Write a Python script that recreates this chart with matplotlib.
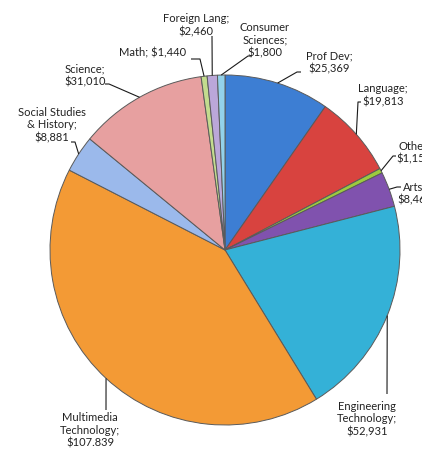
import numpy as np
import matplotlib
matplotlib.use("Agg")
import matplotlib.pyplot as plt

# ---- data ----
categories = ["Prof Dev", "Language", "Other", "Arts", "Engineering\nTechnology",
              "Multimedia\nTechnology", "Social Studies\n& History", "Science",
              "Math", "Foreign Lang", "Consumer\nSciences"]
values = [25369, 19813, 1150, 8460, 52931, 107839, 8881, 31010, 1440, 2460, 1800]
value_labels = ["$25,369", "$19,813", "$1,150", "$8,460", "$52,931", "$107.839",
                "$8,881", "$31,010", "$1,440", "$2,460", "$1,800"]
colors = ["#3D7ED3", "#D8433F", "#9CCB3E", "#8052AE", "#34B1D7", "#F39A35",
          "#9BB9EB", "#E7A0A0", "#C3DC8E", "#BBA7D9", "#93D2EA"]

W, H = 422, 453
fig = plt.figure(figsize=(W / 100, H / 100), dpi=100)
ax = fig.add_axes([0, 0, 1, 1])

cx, cy, R = 225, 250, 175  # pixel coords (y from top)


def P(x, y):
    return x, H - y


wedges, _ = ax.pie(values, colors=colors, startangle=90, counterclock=False,
                   center=P(cx, cy), radius=R, frame=True,
                   wedgeprops=dict(edgecolor="#5a5a5a", linewidth=0.7))
ax.set_xlim(0, W)
ax.set_ylim(0, H)
ax.set_aspect("equal")
ax.axis("off")

# label layout: text center (px), separator, leader path (px)
layout = [
    dict(t=(329, 62), sep="\n", path=[(297, 72), (301, 72)]),
    dict(t=(383, 95), sep="\n", path=[(358, 102), (361, 102)]),
    dict(t=(414, 152), sep="\n", path=[(393, 156), (396, 156)]),
    dict(t=(415, 193), sep="\n", path=[(397, 187), (401, 187)]),
    dict(t=(367, 419), sep="\n", path=[(387, 394)]),
    dict(t=(90, 430), sep="\n", path=[(106, 410)]),
    dict(t=(52, 125), sep="\n", path=[(75, 142), (71, 142)]),
    dict(t=(85, 75), sep="\n", path=[(109, 84), (105, 84)]),
    dict(t=(153, 53), sep=" ", path=[(200, 59), (191, 59)]),
    dict(t=(196, 25), sep="\n", path=[(212, 36)]),
    dict(t=(265, 40), sep="\n", path=[(248, 56), (252, 56)]),
]

font = dict(family=["Lato", "DejaVu Sans"], size=8, color="#222222")
for w, cat, vl, lay in zip(wedges, categories, value_labels, layout):
    mid = np.deg2rad((w.theta1 + w.theta2) / 2)
    rx, ry = cx + R * np.cos(mid), cy - R * np.sin(mid)
    pts = [(rx, ry)] + lay["path"]
    xs = [p[0] for p in pts]
    ys = [H - p[1] for p in pts]
    ax.plot(xs, ys, color="#1a1a1a", lw=0.8, solid_capstyle="butt", zorder=3)
    txt = cat + ";" + lay["sep"] + vl
    ax.text(*P(*lay["t"]), txt, ha="center", va="center", linespacing=1.2,
            **font)

fig.savefig("out.png", dpi=100)
